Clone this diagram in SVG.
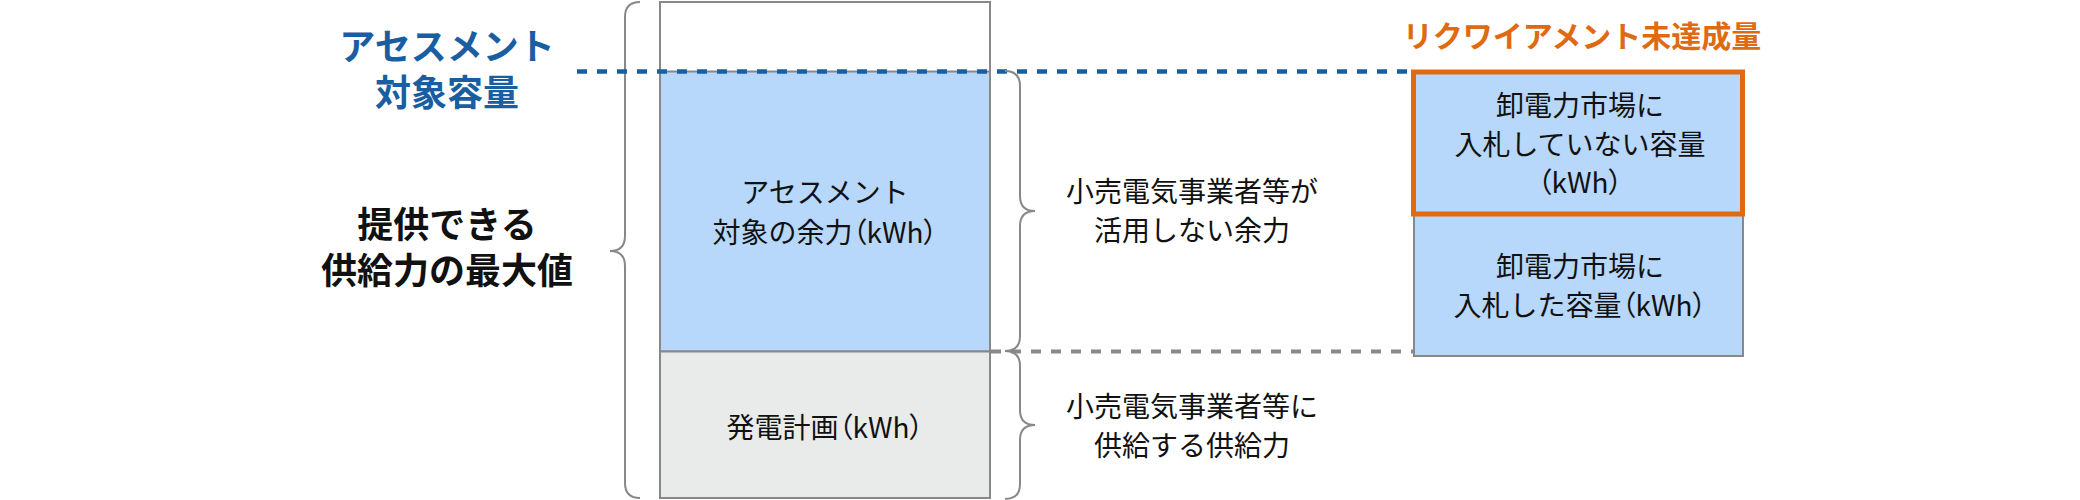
<svg xmlns="http://www.w3.org/2000/svg" width="2080" height="500" viewBox="0 0 2080 500">
<style>
text{font-family:"Noto Sans CJK JP","Noto Sans",sans-serif;text-anchor:middle}
.h{font-size:36px;font-weight:700}
.t{font-size:28px;fill:#111}
.p{font-feature-settings:"palt" 1}
.brace{fill:none;stroke:#888;stroke-width:2}
.box{stroke:#888;stroke-width:2}
</style>
<rect width="2080" height="500" fill="#fff"/>
<g id="labels-left">
<text class="h" x="447" y="60" fill="#1a5ea2">アセスメント</text>
<text class="h" x="447" y="106" fill="#1a5ea2">対象容量</text>
<text class="h" x="447" y="238" fill="#111">提供できる</text>
<text class="h" x="447" y="284" fill="#111">供給力の最大値</text>
</g>
<g id="brace-left">
<path class="brace" d="M640,2 Q625,2 625,17 L625,236 Q625,251 610,251 Q625,251 625,266 L625,483 Q625,498 640,498"/>
</g>
<g id="column-main">
<rect class="box" x="660" y="2" width="330" height="496" fill="#fff"/>
<rect class="box" x="660" y="71.5" width="330" height="280" fill="#b7d7fb"/>
<rect class="box" x="660" y="351.5" width="330" height="146.5" fill="#e9ebea"/>
</g>
<g id="node-assessment">
<text class="t" x="825" y="203">アセスメント</text>
<text class="t" x="825" y="243">対象の余力<tspan class="p">（</tspan>kWh<tspan class="p">）</tspan></text>
</g>
<g id="node-plan">
<text class="t" x="825" y="438">発電計画<tspan class="p">（</tspan>kWh<tspan class="p">）</tspan></text>
</g>
<g id="connectors">
<line x1="577" y1="71.5" x2="1411" y2="71.5" stroke="#1a5ea2" stroke-width="4.5" stroke-dasharray="10 10"/>
<line x1="991" y1="351.5" x2="1414" y2="351.5" stroke="#888" stroke-width="4" stroke-dasharray="10 10"/>
</g>
<g id="braces-right">
<path class="brace" d="M1005,71 Q1020,71 1020,86 L1020,196 Q1020,211 1035,211 Q1020,211 1020,226 L1020,336 Q1020,351 1005,351"/>
<path class="brace" d="M1005,351 Q1020,351 1020,366 L1020,410 Q1020,425 1035,425 Q1020,425 1020,440 L1020,484 Q1020,499 1005,499"/>
</g>
<g id="label-unused">
<text class="t" x="1192" y="202">小売電気事業者等が</text>
<text class="t" x="1192" y="241">活用しない余力</text>
</g>
<g id="label-supply">
<text class="t" x="1192" y="417">小売電気事業者等に</text>
<text class="t" x="1192" y="456">供給する供給力</text>
</g>
<g id="title-shortfall">
<text x="1582" y="47" font-size="30" font-weight="700" fill="#e06a12">リクワイアメント未達成量</text>
</g>
<g id="node-bid">
<rect class="box" x="1414" y="214" width="329" height="142" fill="#b7d7fb"/>
<text class="t" x="1580" y="277">卸電力市場に</text>
<text class="t" x="1580" y="316">入札した容量<tspan class="p">（</tspan>kWh<tspan class="p">）</tspan></text>
</g>
<g id="node-not-bid">
<rect x="1413.5" y="72" width="329" height="142" fill="#b7d7fb" stroke="#e06a12" stroke-width="5"/>
<text class="t" x="1580" y="116">卸電力市場に</text>
<text class="t" x="1580" y="155">入札していない容量</text>
<text class="t" x="1580" y="193"><tspan class="p">（</tspan>kWh<tspan class="p">）</tspan></text>
</g>
</svg>
